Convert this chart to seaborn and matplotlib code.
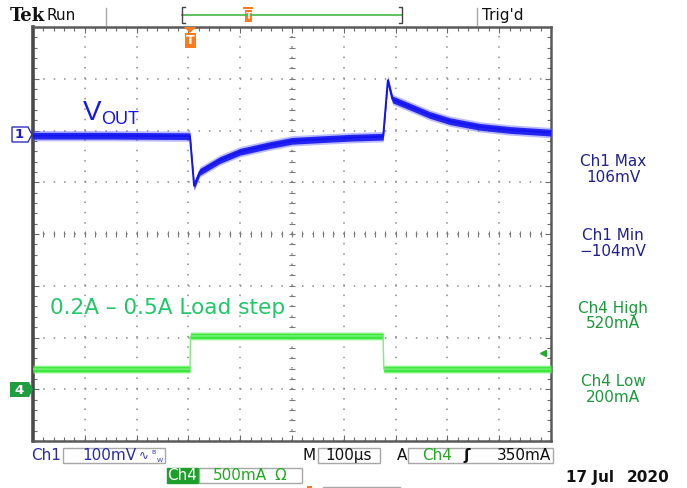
import numpy as np
import matplotlib
matplotlib.use("Agg")
import matplotlib.pyplot as plt
from matplotlib.patches import Polygon, Rectangle
import seaborn as sns

# ---------------- data ----------------
t_vout_us = [0, 150, 303, 311, 322, 361, 400, 458, 500, 554, 612, 674, 676,
             685, 694, 728, 766, 805, 863, 921, 998, 1000]
vout_mv = [-5, -5, -6, -102, -75, -52, -36, -23, -15, -12, -9, -7, -7,
           102, 65, 51, 35, 23, 12, 6, 1, 1]
t_ch4_us = [0, 303, 304, 676, 677, 1000]
ch4_ma = [195, 195, 515, 515, 195, 195]
trigger_level_ma = 350

ch1_scale_mv = 100      # per division
ch4_scale_ma = 500      # per division
time_scale_us = 100     # per division

right_labels = [("Ch1 Max", "106mV"), ("Ch1 Min", "\u2212104mV"),
                ("Ch4 High", "520mA"), ("Ch4 Low", "200mA")]

# ---------------- styling ----------------
plt.rcParams['lines.scale_dashes'] = False
plt.rcParams['font.family'] = ['DejaVu Sans']

W, H = 687, 488
fig = plt.figure(figsize=(W / 100, H / 100), dpi=100)
fig.patch.set_facecolor('white')

L, T, R, B = 33, 27, 551, 441
gax = fig.add_axes([L / W, 1 - B / H, (R - L) / W, (B - T) / H])
ax1 = gax.twinx()
ax4 = gax.twinx()

c1 = '#1414f0'
c4 = '#35e835'

# Ch1 trace (noise band + centre line)
v = np.array(vout_mv, float)
ax1.fill_between(t_vout_us, v - 10, v + 10, color='#6a6af8', alpha=0.45, lw=0)
ax1.fill_between(t_vout_us, v - 6.5, v + 6.5, color=c1, alpha=0.9, lw=0)
sns.lineplot(x=t_vout_us, y=vout_mv, ax=ax1, color=c1, lw=1.4,
             sort=False, estimator=None)
ax1.set_ylim(-5.95 * ch1_scale_mv, 2.05 * ch1_scale_mv)

# Ch4 trace
i4 = np.array(ch4_ma, float)
ax4.fill_between(t_ch4_us, i4 - 40, i4 + 40, color='#8af58a', alpha=0.6, lw=0)
ax4.fill_between(t_ch4_us, i4 - 28, i4 + 28, color=c4, alpha=0.95, lw=0)
sns.lineplot(x=t_ch4_us, y=ch4_ma, ax=ax4, color='#7df07d', lw=1.0,
             sort=False, estimator=None)
ax4.plot([985], [trigger_level_ma], marker='<', ms=5, color='#22aa33', ls='none')
ax4.set_ylim(-1.0 * ch4_scale_ma, 7.0 * ch4_scale_ma)

for a in (ax1, ax4):
    a.axis('off')

# graticule
gax.set_xlim(0, 10 * time_scale_us)
gax.set_ylim(0, 8)
gax.set_xticks(np.arange(0, 1001, 100))
gax.set_xticks(np.arange(0, 1001, 20), minor=True)
gax.set_yticks(np.arange(0, 8.01, 1))
gax.set_yticks(np.arange(0, 8.01, 0.2), minor=True)
gax.grid(which='major', color='#8c8c8c', linestyle=(0, (1.1, 6.35)), linewidth=1.1)
gax.tick_params(which='both', direction='in', top=True, bottom=True, left=True,
                right=True, labelbottom=False, labelleft=False,
                labelright=False, labeltop=False, color='#6a6a6a', width=0.8)
gax.tick_params(which='major', length=4.5)
gax.tick_params(which='minor', length=3)
for s in gax.spines.values():
    s.set_color('#5a5a5a')
    s.set_linewidth(1.8)
gax.spines['left'].set_linewidth(2.6)
gax.spines['left'].set_color('#4a4a4a')
gax.plot([500] * 41, np.arange(0, 8.001, 0.2), ls='none', marker='_', ms=5,
         mew=0.8, color='#7a7a7a')
gax.plot(np.arange(0, 1000.1, 20), [4] * 51, ls='none', marker='|', ms=5,
         mew=0.8, color='#7a7a7a')

# ---------------- overlay for screen annotations (pixel coords) ----------------
ov = fig.add_axes([0, 0, 1, 1])
ov.set_xlim(0, W)
ov.set_ylim(H, 0)
ov.axis('off')

def tx(x, y, s, **kw):
    kw.setdefault('va', 'center')
    kw.setdefault('ha', 'left')
    return ov.text(x, y, s, **kw)

# top bar
tx(10, 21, "Tek", fontsize=13, fontweight='bold', family='DejaVu Serif',
   va='baseline', color='#111111')
tx(47, 20, "Run", fontsize=11, va='baseline', color='#111111')
tx(482, 20, "Trig'd", fontsize=11, va='baseline', color='#111111')
for xs in (106, 477):
    ov.plot([xs, xs], [8, 25], color='#a8a8a8', lw=1)
ov.plot([182, 402], [15, 15], color='#55bb55', lw=1.3)
ov.plot([185, 182, 182, 185], [7, 7, 23, 23], color='#444444', lw=1)
ov.plot([399, 402, 402, 399], [7, 7, 23, 23], color='#444444', lw=1)
orange = '#ff7a1a'
ov.add_patch(Rectangle((245, 10), 7, 12, fc=orange, ec='none'))
ov.plot([244, 252], [8, 8], color=orange, lw=1.5)
tx(248.5, 16.5, "T", fontsize=6, color='white', ha='center', fontweight='bold')
ov.add_patch(Polygon([[184, 27], [196, 27], [190, 33]], closed=True, fc=orange, ec='none'))
ov.add_patch(Rectangle((184.5, 33), 11, 15, fc=orange, ec='none'))
tx(190, 41, "T", fontsize=9, color='white', ha='center', fontweight='bold')

# channel markers
ov.add_patch(Polygon([[12, 127], [28, 127], [32, 134.5], [28, 142], [12, 142]],
                     closed=True, fc='white', ec='#3030c0', lw=1))
tx(19.5, 135, "1", fontsize=9.5, color='#2020b0', ha='center', fontweight='bold')
ov.add_patch(Polygon([[10, 382], [29, 382], [33, 389.5], [29, 397], [10, 397]],
                     closed=True, fc='#1e9e3e', ec='none'))
tx(19.5, 390, "4", fontsize=9.5, color='white', ha='center', fontweight='bold')

# in-screen labels
tx(83, 120, "V", fontsize=20, color=c1, va='baseline', family='Liberation Sans')
tx(101, 124, "OUT", fontsize=13, color=c1, va='baseline', family='Liberation Sans')
tx(50, 314, "0.2A \u2013 0.5A Load step", fontsize=15.6, color='#22c76a',
   va='baseline', family='DejaVu Sans')

# right-hand measurement readouts
rc = ['#202090', '#202090', '#1a9a3a', '#1a9a3a']
ys = [162, 235, 308, 382]
for (a, b), col, y in zip(right_labels, rc, ys):
    tx(613, y, a, fontsize=11, color=col, ha='center')
    tx(613, y + 16, b, fontsize=11, color=col, ha='center')

# bottom status bar
box_ec = '#a8a8a8'
def box(x0, y0, x1, y1, fc='white', ec=box_ec):
    ov.add_patch(Rectangle((x0, y0), x1 - x0, y1 - y0, fc=fc, ec=ec, lw=1))

tx(31, 455, "Ch1", fontsize=11, color='#2a2aa8')
box(63, 448, 165, 463)
tx(82, 455.5, "100mV", fontsize=11, color='#2a2aa8')
tx(139, 455, "\u223f", fontsize=8.5, color='#3030c0')
tx(151, 452, "B", fontsize=4.5, color='#3030c0')
tx(156.5, 460, "W", fontsize=4.5, color='#3030c0')

tx(303, 455.5, "M", fontsize=11, color='#111111')
box(318, 448, 380, 463)
tx(349, 455.5, "100\u00b5s", fontsize=11, color='#111111', ha='center')
tx(397, 455.5, "A", fontsize=11, color='#111111')
box(408, 448, 553, 463)
tx(422, 455.5, "Ch4", fontsize=11, color='#22aa22')
tx(467, 455.5, "\u0283", fontsize=11, color='#111111', ha='center', fontweight='bold')
tx(551, 455.5, "350mA", fontsize=11, color='#111111', ha='right')

box(167, 468, 198, 483, fc='#1e9e2a', ec='#1e9e2a')
tx(182.5, 475.5, "Ch4", fontsize=11, color='white', ha='center')
box(199, 468, 302, 483)
tx(213, 475.5, "500mA", fontsize=11, color='#22aa22')
tx(274, 475.5, "\u03a9", fontsize=11, color='#22aa22')

ov.add_patch(Rectangle((307, 486), 5, 3, fc=orange, ec='none'))
ov.plot([323, 400], [486.5, 486.5], color=box_ec, lw=1)

tx(566, 482, "17 Jul", fontsize=11, color='#111111', fontweight='bold', va='baseline')
tx(670, 482, "2020", fontsize=11, color='#111111', fontweight='bold', ha='right',
   va='baseline')

fig.savefig("out.png", dpi=100, facecolor='white')
